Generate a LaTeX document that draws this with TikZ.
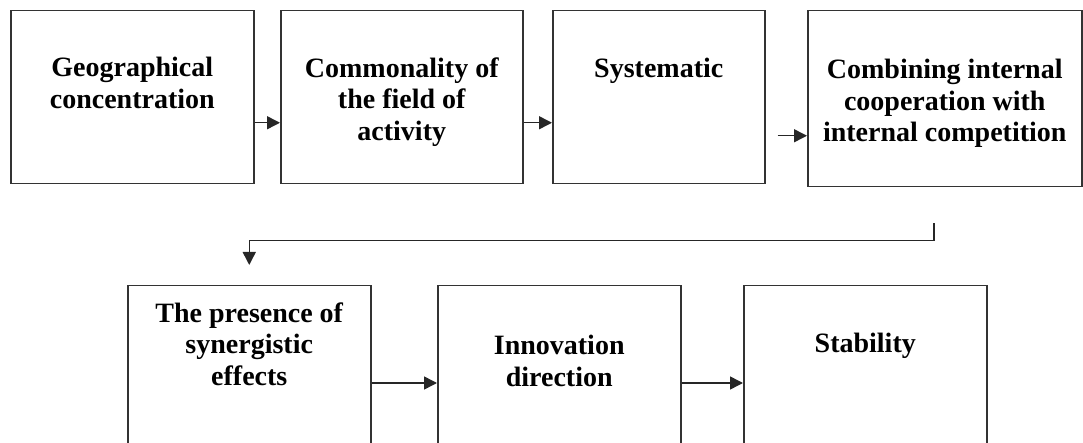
\documentclass[tikz,border=0pt]{standalone}
\usepackage{fontspec}
\setmainfont{Liberation Serif}
\usepackage{tikz}
\usetikzlibrary{arrows.meta, positioning}

\begin{document}
\begin{tikzpicture}[x=0.5pt, y=-0.5pt,
  box/.style={draw=black!80, line width=0.75pt, anchor=north west, inner sep=0pt},
  txt/.style={align=center, inner sep=0pt, font=\bfseries\fontsize{14}{15.75}\selectfont},
  arr/.style={draw=black!85, line width=0.75pt, -{Triangle[length=6.5pt, width=6.5pt]}}]
\useasboundingbox (0,0) rectangle (1083,443);
\clip (0,0) rectangle (1083,443);
% top row
\node[box, minimum width=121.5pt, minimum height=86.5pt] (geo) at (10,10) {};
\node[box, minimum width=121pt, minimum height=86.5pt] (comm) at (280,10) {};
\node[box, minimum width=106pt, minimum height=86.5pt] (syst) at (552,10) {};
\node[box, minimum width=137pt, minimum height=88pt] (comb) at (807,10) {};
\node[txt, below=23.5pt of geo.north] (geo-t) {Geographical\\concentration};
\node[txt, below=23.5pt of comm.north] (comm-t) {Commonality of\\the field of\\activity};
\node[txt, below=24pt of syst.north] (syst-t) {Systematic};
\node[txt, below=24.5pt of comb.north] (comb-t) {Combining internal\\cooperation with\\internal competition};
% bottom row
\node[box, minimum width=121.5pt, minimum height=95pt] (syn) at (127,285) {};
\node[box, minimum width=121.5pt, minimum height=95pt] (innov) at (437,285) {};
\node[box, minimum width=121.5pt, minimum height=95pt] (stab) at (743,285) {};
\node[txt, below=8.5pt of syn.north] (syn-t) {The presence of\\synergistic\\effects};
\node[txt, below=25pt of innov.north] (innov-t) {Innovation\\direction};
\node[txt, below=24pt of stab.north] (stab-t) {Stability};
% arrows
\draw[arr] ([yshift=-12.75pt]geo.east) -- ([yshift=-12.75pt]comm.west);
\draw[arr] ([yshift=-12.75pt]comm.east) -- ([yshift=-12.75pt]syst.west);
\coordinate (comb-in) at ([yshift=-18.5pt]comb.west);
\draw[arr] ([xshift=6pt]syst.east |- comb-in) -- (comb-in);
\coordinate (fb-start) at ([xshift=-5.5pt, yshift=-18pt]comb.south);
\coordinate (fb-end) at ([yshift=10pt]syn.north);
\draw[arr] (fb-start) -- ++(0,-8.5pt) -| (fb-end);
\draw[arr] ([yshift=-49pt]syn.north east) -- ([yshift=-49pt]innov.north west);
\draw[arr] ([yshift=-49pt]innov.north east) -- ([yshift=-49pt]stab.north west);
\end{tikzpicture}
\end{document}
